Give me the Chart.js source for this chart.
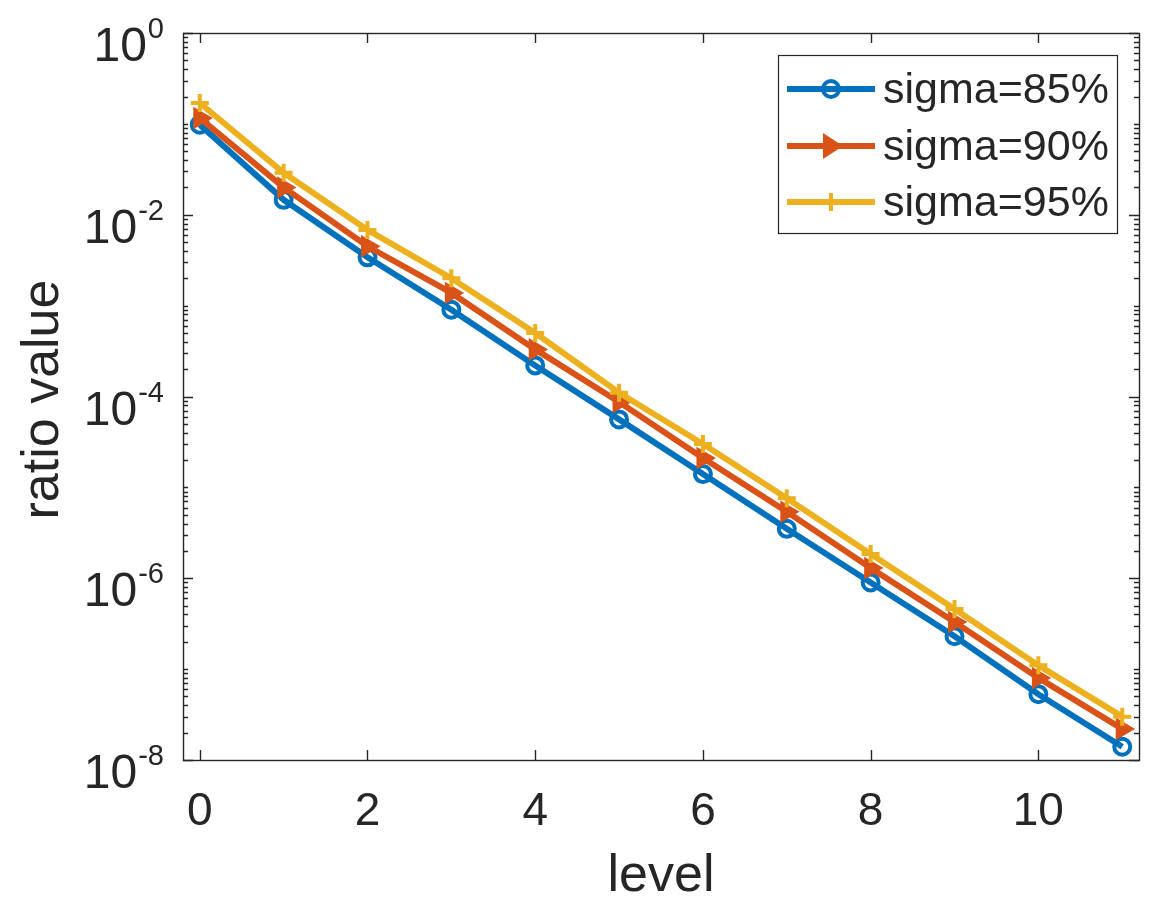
<!DOCTYPE html>
<html>
<head>
<meta charset="utf-8">
<script src="https://cdn.jsdelivr.net/npm/chart.js@4/dist/chart.umd.min.js"></script>
<style>
  html, body { margin: 0; padding: 0; background: #ffffff; }
  #wrap { width: 1152px; height: 897px; }
</style>
</head>
<body>
<div id="wrap"><canvas id="c" width="1152" height="897"></canvas></div>
<script>
// ---- data ----
const levels = [0, 1, 2, 3, 4, 5, 6, 7, 8, 9, 10, 11];
const sigma85 = [0.098, 0.0146, 3.4e-3, 9.0e-4, 2.2e-4, 5.6e-5, 1.4e-5, 3.5e-6, 9.0e-7, 2.3e-7, 5.3e-8, 1.4e-8];
const sigma90 = [0.116, 0.020, 4.5e-3, 1.38e-3, 3.3e-4, 8.7e-5, 2.1e-5, 5.4e-6, 1.3e-6, 3.3e-7, 8.0e-8, 2.2e-8];
const sigma95 = [0.17, 0.029, 6.8e-3, 2.0e-3, 5.0e-4, 1.1e-4, 3.0e-5, 7.6e-6, 1.85e-6, 4.6e-7, 1.1e-7, 3.0e-8];
const seriesNames = ['sigma=85%', 'sigma=90%', 'sigma=95%'];
const xTickValues = [0, 2, 4, 6, 8, 10];
const yTickExponents = [0, -2, -4, -6, -8];
const xTitle = 'level';
const yTitle = 'ratio value';

// ---- styles ----
const COLORS = ['#0072BD', '#D95319', '#EDB120'];
const AXIS = '#262626';
const FONT = '"Liberation Sans", Arial, Helvetica, sans-serif';

function pts(vals) { return levels.map((l, i) => ({ x: l, y: vals[i] })); }

function drawMarker(ctx, kind, x, y, color) {
  ctx.save();
  ctx.strokeStyle = color;
  ctx.fillStyle = color;
  ctx.lineWidth = 4;
  if (kind === 0) {
    ctx.beginPath(); ctx.arc(x, y, 8, 0, Math.PI * 2); ctx.stroke();
  } else if (kind === 1) {
    ctx.beginPath();
    ctx.moveTo(x + 12, y); ctx.lineTo(x - 8, y - 13); ctx.lineTo(x - 8, y + 13); ctx.closePath();
    ctx.fill();
  } else {
    ctx.beginPath();
    ctx.moveTo(x - 9, y); ctx.lineTo(x + 9, y);
    ctx.moveTo(x, y - 9); ctx.lineTo(x, y + 9);
    ctx.stroke();
  }
  ctx.restore();
}

const decor = {
  id: 'decor',
  beforeDraw(chart) {
    const ctx = chart.ctx;
    ctx.save();
    ctx.fillStyle = '#ffffff';
    ctx.fillRect(0, 0, chart.width, chart.height);
    ctx.restore();
  },
  afterDraw(chart) {
    const ctx = chart.ctx;
    const a = chart.chartArea;
    const xs = chart.scales.x, ys = chart.scales.y;
    ctx.save();
    ctx.strokeStyle = AXIS;
    ctx.fillStyle = AXIS;
    ctx.lineWidth = 1.4;
    // box
    ctx.strokeRect(a.left + 0.5, a.top + 0.5, a.right - a.left, a.bottom - a.top);
    // x ticks
    ctx.beginPath();
    xTickValues.forEach(v => {
      const px = Math.round(xs.getPixelForValue(v)) + 0.5;
      ctx.moveTo(px, a.bottom); ctx.lineTo(px, a.bottom - 10);
      ctx.moveTo(px, a.top); ctx.lineTo(px, a.top + 10);
    });
    // y ticks (major + minor)
    for (let e = 0; e >= -8; e--) {
      for (let n = 1; n <= 9; n++) {
        if (e === 0 && n > 1) break;
        const v = n * Math.pow(10, e);
        const py = Math.round(ys.getPixelForValue(v)) + 0.5;
        const len = (n === 1 && yTickExponents.includes(e)) ? 10 : 5;
        ctx.moveTo(a.left, py); ctx.lineTo(a.left + len, py);
        ctx.moveTo(a.right, py); ctx.lineTo(a.right - len, py);
      }
    }
    ctx.stroke();
    // x tick labels
    ctx.font = '46px ' + FONT;
    ctx.textAlign = 'center';
    ctx.textBaseline = 'alphabetic';
    xTickValues.forEach(v => {
      ctx.fillText(String(v), xs.getPixelForValue(v), 825);
    });
    // y tick labels 10^e
    const rightX = 164;
    yTickExponents.forEach(e => {
      const py = ys.getPixelForValue(Math.pow(10, e));
      const expStr = e === 0 ? '0' : '-' + Math.abs(e);
      ctx.font = '29px ' + FONT;
      ctx.textAlign = 'right';
      const w = ctx.measureText(expStr).width;
      ctx.fillText(expStr, rightX, py + 5);
      ctx.font = '48px ' + FONT;
      ctx.fillText('10', rightX - w - 1, py + 28);
    });
    // axis titles
    ctx.font = '52px ' + FONT;
    ctx.textAlign = 'center';
    ctx.fillText(xTitle, (a.left + a.right) / 2, 891);
    ctx.save();
    ctx.translate(58, (a.top + a.bottom) / 2 + 3);
    ctx.rotate(-Math.PI / 2);
    ctx.fillText(yTitle, 0, 0);
    ctx.restore();
    // legend
    const lx = 778, ly = 55, lw = 339, lh = 178;
    ctx.fillStyle = '#ffffff';
    ctx.fillRect(lx, ly, lw, lh);
    ctx.lineWidth = 1.2;
    ctx.strokeStyle = AXIS;
    ctx.strokeRect(lx + 0.5, ly + 0.5, lw, lh);
    const rows = [89, 146, 202];
    seriesNames.forEach((name, i) => {
      const y = rows[i];
      ctx.save();
      ctx.strokeStyle = COLORS[i];
      ctx.lineWidth = 6;
      ctx.beginPath(); ctx.moveTo(787, y); ctx.lineTo(875, y); ctx.stroke();
      ctx.restore();
      drawMarker(ctx, i, 831, y, COLORS[i]);
      ctx.fillStyle = AXIS;
      ctx.font = '43px ' + FONT;
      ctx.textAlign = 'left';
      ctx.textBaseline = 'middle';
      ctx.fillText(name, 883, y + 2);
      ctx.textBaseline = 'alphabetic';
    });
    ctx.restore();
  }
};

new Chart(document.getElementById('c'), {
  type: 'line',
  data: {
    datasets: [
      {
        label: seriesNames[0], data: pts(sigma85), borderColor: COLORS[0], borderWidth: 6,
        pointStyle: 'circle', pointRadius: 8, pointBorderWidth: 4, pointBorderColor: COLORS[0],
        pointBackgroundColor: 'rgba(0,0,0,0)', order: 2, tension: 0, clip: false
      },
      {
        label: seriesNames[1], data: pts(sigma90), borderColor: COLORS[1], borderWidth: 6,
        pointStyle: 'triangle', pointRotation: 90, pointRadius: 11, pointBorderWidth: 2,
        pointBorderColor: COLORS[1], pointBackgroundColor: COLORS[1], order: 1, tension: 0, clip: false
      },
      {
        label: seriesNames[2], data: pts(sigma95), borderColor: COLORS[2], borderWidth: 6,
        pointStyle: 'cross', pointRadius: 9, pointBorderWidth: 4, pointBorderColor: COLORS[2],
        pointBackgroundColor: COLORS[2], order: 0, tension: 0, clip: false
      }
    ]
  },
  options: {
    responsive: false,
    animation: false,
    events: [],
    layout: { padding: { left: 0, top: 33, right: 13, bottom: 0 } },
    plugins: { legend: { display: false }, tooltip: { enabled: false } },
    scales: {
      x: {
        type: 'linear', min: -0.2, max: 11.2,
        grid: { display: false }, border: { display: false },
        ticks: { display: false },
        afterFit(s) { s.height = 137; }
      },
      y: {
        type: 'logarithmic', min: 1e-8, max: 1,
        grid: { display: false }, border: { display: false },
        ticks: { display: false },
        afterFit(s) { s.width = 183; }
      }
    }
  },
  plugins: [decor]
});
</script>
</body>
</html>
